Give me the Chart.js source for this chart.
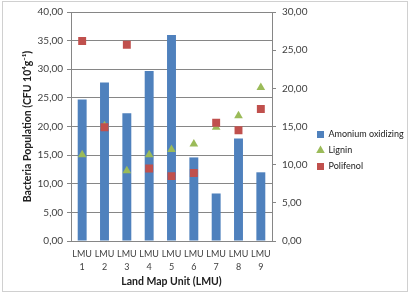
<!DOCTYPE html>
<html>
<head>
<meta charset="utf-8">
<script src="https://cdn.jsdelivr.net/npm/chart.js@4.4.1/dist/chart.umd.min.js"></script>
<style>
  html, body { margin: 0; padding: 0; background: #fff; }
  #wrap { width: 412px; height: 293px; position: relative; }
</style>
</head>
<body>
<div id="wrap"><canvas id="canvas1" width="412" height="293"></canvas></div>
<script>
// DATA
const units = [['LMU', '1'], ['LMU', '2'], ['LMU', '3'], ['LMU', '4'], ['LMU', '5'], ['LMU', '6'], ['LMU', '7'], ['LMU', '8'], ['LMU', '9']];
const amonium = [24.7, 27.7, 22.3, 29.7, 36.0, 14.6, 8.3, 17.9, 12.0];
const lignin = [11.3, 15.1, 9.2, 11.3, 12.0, 12.7, 14.9, 16.4, 20.1];
const polifenol = [26.2, 14.9, 25.7, 9.5, 8.5, 8.9, 15.5, 14.5, 17.3];

// virgule decimale comme dans la figure
function comma(v) {
  return v.toFixed(2).replace('.', ',');
}

// cadre gris autour du graphique
const frame = {
  id: 'frame',
  afterDraw(chart) {
    const ctx = chart.ctx;
    ctx.save();
    ctx.strokeStyle = '#d0d0d0';
    ctx.lineWidth = 1;
    ctx.strokeRect(2.5, 1.5, 405, 290);
    ctx.restore();
  }
};

// largeur fixe pour la legende (sinon le texte est coupe)
const legendWidth = {
  id: 'legendWidth',
  beforeLayout(chart) {
    const lg = chart.legend;
    if (lg && !lg._fixed) {
      const fit = lg.fit.bind(lg);
      lg.fit = function () {
        fit();
        this.width = 102;
      };
      lg._fixed = true;
    }
  }
};

Chart.defaults.font.family = 'Lato, "Open Sans", sans-serif';
Chart.defaults.font.size = 9.5;
Chart.defaults.color = '#404040';

let myChart1 = new Chart(document.getElementById('canvas1'), {
  type: 'bar',
  data: {
    labels: units,
    datasets: [{
      label: 'Amonium oxidizing',
      data: amonium,
      backgroundColor: '#4F81BD',
      categoryPercentage: 1,
      barPercentage: 0.4,
      pointStyle: 'rect',
      yAxisID: 'y',
      order: 3
    }, {
      type: 'line',
      label: 'Lignin',
      data: lignin,
      showLine: false,
      pointStyle: 'triangle',
      pointRadius: 5,
      pointHoverRadius: 5,
      backgroundColor: '#9BBB59',
      borderColor: '#9BBB59',
      borderWidth: 0,
      yAxisID: 'y1',
      order: 2
    }, {
      type: 'line',
      label: 'Polifenol',
      data: polifenol,
      showLine: false,
      pointStyle: 'rect',
      pointRadius: 5.6,
      pointHoverRadius: 5.6,
      backgroundColor: '#C0504D',
      borderColor: '#C0504D',
      borderWidth: 0,
      yAxisID: 'y1',
      order: 1
    }]
  },
  options: {
    responsive: false,
    animation: false,
    layout: { padding: { left: 3, right: 0, top: 12, bottom: 4 } },
    plugins: {
      tooltip: { enabled: false },
      legend: {
        position: 'right',
        labels: {
          usePointStyle: true,
          boxWidth: 7,
          boxHeight: 7,
          padding: 7,
          color: '#202020',
          font: { size: 9 },
          sort: (a, b) => a.datasetIndex - b.datasetIndex
        }
      }
    },
    scales: {
      x: {
        grid: { display: false, drawTicks: false },
        border: { color: '#868686' },
        ticks: { autoSkip: false, padding: 6, font: { size: 9, lineHeight: 1.5 }, color: '#404040', maxRotation: 0 },
        title: { display: true, text: 'Land Map Unit (LMU)', font: { size: 10.5, weight: 'bold' }, color: '#202020', padding: { top: 2, bottom: 1 } },
        afterFit: (scale) => { scale.height = 48; }
      },
      y: {
        position: 'left',
        min: 0,
        max: 40,
        ticks: { stepSize: 5, padding: 4, callback: comma, color: '#404040', font: { size: 10 } },
        grid: { color: '#868686', tickLength: 4, tickColor: '#868686' },
        border: { color: '#868686' },
        title: { display: true, text: 'Bacteria Population (CFU 10⁴g⁻¹)', font: { size: 10.5, weight: 'bold' }, color: '#202020', padding: { top: 18, bottom: 2 } },
        afterFit: (scale) => { scale.width = 68; }
      },
      y1: {
        position: 'right',
        min: 0,
        max: 30,
        ticks: { stepSize: 5, padding: 6, callback: comma, color: '#404040', font: { size: 10 } },
        grid: { drawOnChartArea: false, tickLength: 4, tickColor: '#868686' },
        border: { color: '#868686' },
        afterFit: (scale) => { scale.width = 38; }
      }
    }
  },
  plugins: [frame, legendWidth]
});
</script>
</body>
</html>
